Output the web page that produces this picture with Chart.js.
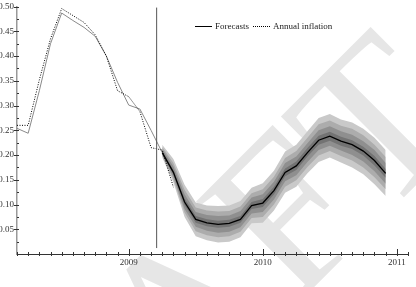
<!DOCTYPE html>
<html>
<head>
<meta charset="utf-8">
<script src="https://cdn.jsdelivr.net/npm/chart.js@4.4.1/dist/chart.umd.min.js"></script>
<style>
  html, body { margin: 0; padding: 0; background: #fff; }
  #wrap { position: relative; width: 416px; height: 287px; overflow: hidden; }
  #wm {
    position: absolute; left: -165px; top: 506px;
    font: 220px "Liberation Serif"; line-height: 220px;
    color: #e6e6e6; white-space: nowrap;
    transform-origin: 0 0; transform: rotate(-45deg);
  }
  canvas { position: absolute; left: 0; top: 0; }
  #legend {
    position: absolute; left: 195px; top: 20px; height: 12px;
    display: flex; align-items: center; white-space: nowrap;
    font: 9px "Liberation Serif"; color: #222;
  }
  .sw { display: inline-block; width: 17px; height: 0; margin-right: 3px; }
  .solid { border-top: 1.5px solid #000; }
  .dot { border-top: 1px dotted #000; margin-left: 4px; }
</style>
</head>
<body>
<div id="wrap">
  <div id="wm">DRAFT</div>
  <canvas id="chart" width="416" height="287"></canvas>
  <div id="legend">
    <span class="sw solid"></span><span>Forecasts</span>
    <span class="sw dot"></span><span>Annual inflation</span>
  </div>
</div>
<script>
// ---------------- DATA ----------------
const months = [
    "2008-03", "2008-04", "2008-05", "2008-06", "2008-07", "2008-08", "2008-09", "2008-10", "2008-11", "2008-12",
    "2009-01", "2009-02", "2009-03", "2009-04", "2009-05", "2009-06", "2009-07", "2009-08", "2009-09", "2009-10", "2009-11", "2009-12",
    "2010-01", "2010-02", "2010-03", "2010-04", "2010-05", "2010-06", "2010-07", "2010-08", "2010-09", "2010-10", "2010-11", "2010-12",
    "2011-01", "2011-02"
];

// history, from 2008-03
const histStart = "2008-03";
const inflation = [0.26, 0.26, 0.352, 0.435, 0.496, 0.482, 0.468, 0.443, 0.40, 0.33, 0.318, 0.288, 0.215, 0.21, 0.135];
const fitted = [0.254, 0.244, 0.33, 0.425, 0.487, 0.472, 0.458, 0.44, 0.40, 0.347, 0.301, 0.293, 0.25, 0.205];

// forecast and fan bands, from 2009-04
const fcStart = "2009-04";
const forecast = [0.205, 0.165, 0.105, 0.070, 0.063, 0.060, 0.062, 0.070, 0.098, 0.103, 0.128, 0.165, 0.178, 0.205, 0.230, 0.238, 0.228, 0.221, 0.208, 0.189, 0.163];
const q90Hi = [0.221, 0.192, 0.140, 0.104, 0.098, 0.097, 0.098, 0.107, 0.134, 0.143, 0.168, 0.207, 0.221, 0.248, 0.275, 0.283, 0.272, 0.266, 0.253, 0.235, 0.210];
const q90Lo = [0.195, 0.145, 0.075, 0.036, 0.028, 0.023, 0.025, 0.034, 0.062, 0.063, 0.088, 0.124, 0.136, 0.163, 0.186, 0.195, 0.185, 0.175, 0.161, 0.141, 0.117];
const q70Hi = [0.216, 0.184, 0.130, 0.094, 0.088, 0.086, 0.087, 0.096, 0.123, 0.131, 0.156, 0.194, 0.208, 0.235, 0.262, 0.270, 0.259, 0.253, 0.240, 0.221, 0.196];
const q70Lo = [0.198, 0.151, 0.084, 0.046, 0.038, 0.034, 0.036, 0.045, 0.073, 0.075, 0.100, 0.136, 0.149, 0.176, 0.199, 0.208, 0.198, 0.189, 0.175, 0.155, 0.131];
const q45Hi = [0.212, 0.177, 0.121, 0.085, 0.079, 0.077, 0.078, 0.087, 0.114, 0.121, 0.146, 0.184, 0.197, 0.224, 0.250, 0.258, 0.248, 0.241, 0.228, 0.210, 0.184];
const q45Lo = [0.200, 0.156, 0.091, 0.055, 0.047, 0.043, 0.045, 0.054, 0.082, 0.085, 0.110, 0.147, 0.159, 0.186, 0.210, 0.219, 0.209, 0.200, 0.187, 0.167, 0.142];
const q20Hi = [0.208, 0.170, 0.112, 0.077, 0.070, 0.067, 0.069, 0.077, 0.105, 0.111, 0.136, 0.173, 0.187, 0.214, 0.239, 0.247, 0.237, 0.230, 0.217, 0.198, 0.172];
const q20Lo = [0.203, 0.161, 0.099, 0.063, 0.056, 0.053, 0.055, 0.063, 0.091, 0.095, 0.120, 0.157, 0.170, 0.197, 0.221, 0.229, 0.219, 0.212, 0.199, 0.179, 0.154];

// forecast origin (mid March 2009) and its marker span
const cutoffX = 12.5;
const cutoffSpan = [0.012, 0.498];

const yTicks = [0.05, 0.10, 0.15, 0.20, 0.25, 0.30, 0.35, 0.40, 0.45, 0.50];

// ---------------- HELPERS ----------------
function series(start, values) {
    const s = months.indexOf(start);
    return values.map((v, i) => ({ x: s + i, y: v }));
}

function band(hi, lo, color, order) {
    return [
        { data: series(fcStart, hi), fill: "+1", backgroundColor: color, borderWidth: 0, borderColor: "transparent", pointRadius: 0, order: order },
        { data: series(fcStart, lo), fill: false, borderWidth: 0, borderColor: "transparent", pointRadius: 0, order: order }
    ];
}

const FONT = "Liberation Serif";

// axis tick marks, monthly on x and every 0.025 on y
const tickMarks = {
    id: "tickMarks",
    afterDraw(chart) {
        const { ctx, scales: { x, y }, chartArea: a } = chart;
        ctx.save();
        ctx.strokeStyle = "#333";
        ctx.lineWidth = 1;
        ctx.beginPath();
        months.forEach((m, i) => {
            const px = Math.round(x.getPixelForValue(i)) + 0.5;
            const up = m.endsWith("-01") ? 5 : 2;
            ctx.moveTo(px, a.bottom - up);
            ctx.lineTo(px, a.bottom + 2);
        });
        yTicks.forEach(v => {
            let py = Math.round(y.getPixelForValue(v)) + 0.5;
            ctx.moveTo(a.left - 3, py);
            ctx.lineTo(a.left + 2, py);
            py = Math.round(y.getPixelForValue(v - 0.025)) + 0.5;
            ctx.moveTo(a.left, py);
            ctx.lineTo(a.left + 2, py);
        });
        ctx.stroke();
        ctx.restore();
    }
};

// ---------------- CHART ----------------
new Chart(document.getElementById("chart"), {
    type: "line",
    data: {
        datasets: [
            ...band(q90Hi, q90Lo, "#c9c9c9", 10),
            ...band(q70Hi, q70Lo, "#acacac", 9),
            ...band(q45Hi, q45Lo, "#8f8f8f", 8),
            ...band(q20Hi, q20Lo, "#737373", 7),
            { data: series(histStart, fitted), borderColor: "#8a8a8a", borderWidth: 1, pointRadius: 0, fill: false, order: 3 },
            { data: series(fcStart, forecast), borderColor: "#000", borderWidth: 1.3, pointRadius: 0, fill: false, order: 2 },
            { data: series(histStart, inflation), borderColor: "#000", borderWidth: 1, borderDash: [1, 1.5], pointRadius: 0, fill: false, order: 1 },
            { data: cutoffSpan.map(v => ({ x: cutoffX, y: v })), borderColor: "#555", borderWidth: 1, pointRadius: 0, fill: false, order: 0 }
        ]
    },
    options: {
        responsive: false,
        animation: false,
        devicePixelRatio: 1,
        layout: { padding: { left: 0, right: 8, top: 4, bottom: 0 } },
        plugins: { legend: { display: false }, tooltip: { enabled: false } },
        elements: { line: { tension: 0 } },
        scales: {
            x: {
                type: "linear",
                min: 0,
                max: months.length - 1,
                afterFit: s => { s.height = 33; },
                grid: { display: true, drawOnChartArea: false, drawTicks: false },
                border: { color: "#333", width: 1 },
                ticks: {
                    stepSize: 1,
                    autoSkip: false,
                    maxRotation: 0,
                    padding: 3,
                    color: "#333",
                    font: { family: FONT, size: 9 },
                    callback: v => {
                        const m = months[v];
                        return m && m.endsWith("-01") ? m.slice(0, 4) : "";
                    }
                }
            },
            y: {
                min: 0,
                max: 0.5,
                afterFit: s => { s.width = 17; },
                afterBuildTicks: s => { s.ticks = [0].concat(yTicks).map(v => ({ value: v })); },
                grid: { display: true, drawOnChartArea: false, drawTicks: false },
                border: { color: "#999", width: 1.5 },
                ticks: {
                    padding: 3,
                    color: "#333",
                    font: { family: FONT, size: 9, lineHeight: 0.8 },
                    callback: v => v < 0.01 ? "" : v.toFixed(2)
                }
            }
        }
    },
    plugins: [tickMarks]
});
</script>
</body>
</html>
